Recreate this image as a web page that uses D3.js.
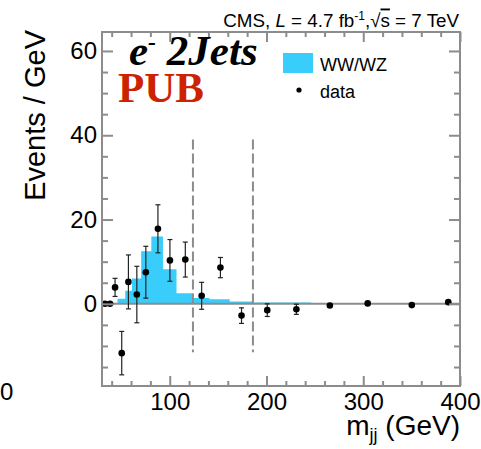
<!DOCTYPE html>
<html>
<head>
<meta charset="utf-8">
<script src="https://cdn.jsdelivr.net/npm/d3@7"></script>
<style>
  html, body { margin: 0; padding: 0; background: #fff; }
  svg { display: block; }
  text { font-family: "Liberation Sans", Arial, sans-serif; fill: #000; }
  text.serif { font-family: "Liberation Serif", "Times New Roman", serif; }
</style>
</head>
<body>
<svg id="chart" width="481" height="449"></svg>
<script>
// Dijet invariant mass, electron channel
const histEdges = [46, 54, 61, 70.5, 81, 93, 107, 124, 141, 162, 186, 214, 246];
const histValues = [1.2, 3.1, 6.0, 12.5, 16.0, 8.2, 2.5, 1.4, 1.1, 0.55, 0.3, 0.3];

const dataMass = [33.1, 38.3, 43.5, 50.4, 57.3, 66.0, 75.3, 87.8, 100.2, 116.1, 133.0, 152.4, 174.2, 200.8, 230.9, 265.5, 304.6, 350.2, 387.9];
const dataValues = [0, 0, 3.9, -11.7, 5.2, 2.2, 7.5, 17.8, 10.3, 10.5, 1.9, 8.6, -2.8, -1.5, -1.3, -0.4, 0.1, -0.3, 0.4];
const dataErrors = [0, 0, 2.15, 5.15, 6.4, 6.7, 6.15, 5.7, 4.95, 4.15, 3.2, 2.4, 1.85, 1.5, 1.2, 0.6, 0.3, 0.3, 0.4];

const windowEdges = [124, 186];
const windowRange = [-11.5, 39];

const xTicks = [100, 200, 300, 400];
const yTicks = [0, 20, 40, 60];

const svg = d3.select("#chart");
const pLeft = 102, pRight = 460, pTop = 32, pBottom = 386;

const x = d3.scaleLinear().domain([30, 400]).range([pLeft, pRight]);
const y = d3.scaleLinear().domain([-19.5, 64.5]).range([pBottom, pTop]);

const grey = "#8c8c8c";
const cyan = "#38cdfa";

// Histogram of expected WW/WZ
const histPts = [];
histValues.forEach((v, i) => {
  histPts.push([histEdges[i], v], [histEdges[i + 1], v]);
});
const area = d3.area()
  .x(d => x(d[0]))
  .y0(y(0))
  .y1(d => y(d[1]));
svg.append("path")
  .datum(histPts)
  .attr("d", area)
  .attr("fill", cyan);

// Zero line
svg.append("line")
  .attr("x1", pLeft).attr("x2", pRight)
  .attr("y1", y(0)).attr("y2", y(0))
  .attr("stroke", grey).attr("stroke-width", 2);

// Mass window
svg.selectAll(".win").data(windowEdges).enter().append("line")
  .attr("x1", d => x(d)).attr("x2", d => x(d))
  .attr("y1", y(windowRange[1])).attr("y2", y(windowRange[0]))
  .attr("stroke", grey).attr("stroke-width", 2)
  .attr("stroke-dasharray", "10,4");

// Data points with error bars
const pts = dataMass.map((m, i) => ({ m, v: dataValues[i], e: dataErrors[i] }));
const eb = svg.append("g").attr("stroke", "#222").attr("stroke-width", 1.2);
pts.filter(d => d.e > 0).forEach(d => {
  const cx = x(d.m);
  eb.append("line").attr("x1", cx).attr("x2", cx)
    .attr("y1", y(d.v + d.e)).attr("y2", y(d.v - d.e));
  if (y(d.v - d.e) - y(d.v + d.e) > 7) {
    [d.v + d.e, d.v - d.e].forEach(yy => {
      eb.append("line").attr("x1", cx - 2.5).attr("x2", cx + 2.5)
        .attr("y1", y(yy)).attr("y2", y(yy));
    });
  }
});
svg.selectAll(".pt").data(pts).enter().append("circle")
  .attr("cx", d => x(d.m)).attr("cy", d => y(d.v))
  .attr("r", 3.3).attr("fill", "#000");

// Axes with inward ticks
const axisStyle = g => {
  g.select(".domain").remove();
  g.selectAll(".tick line").attr("stroke", grey).attr("stroke-width", 2);
  g.selectAll("text").attr("font-size", "24px").attr("fill", "#000");
};
const xMinor = d3.range(40, 400, 20).filter(v => !xTicks.includes(v));
const yMinor = d3.range(-15, 64, 5).filter(v => !yTicks.includes(v));

svg.append("g").attr("transform", `translate(0,${pBottom})`)
  .call(d3.axisBottom(x).tickValues(xTicks).tickSize(-10).tickPadding(7).tickFormat(d3.format("d")))
  .call(axisStyle);
svg.append("g").attr("transform", `translate(0,${pBottom})`)
  .call(d3.axisBottom(x).tickValues(xMinor).tickSize(-5).tickFormat(""))
  .call(axisStyle);
svg.append("g").attr("transform", `translate(0,${pTop})`)
  .call(d3.axisTop(x).tickValues(xTicks).tickSize(-10).tickFormat(""))
  .call(axisStyle);
svg.append("g").attr("transform", `translate(0,${pTop})`)
  .call(d3.axisTop(x).tickValues(xMinor).tickSize(-5).tickFormat(""))
  .call(axisStyle);

svg.append("g").attr("transform", `translate(${pLeft},0)`)
  .call(d3.axisLeft(y).tickValues(yTicks).tickSize(-11).tickPadding(5).tickFormat(d3.format("d")))
  .call(axisStyle);
svg.append("g").attr("transform", `translate(${pLeft},0)`)
  .call(d3.axisLeft(y).tickValues(yMinor).tickSize(-6).tickFormat(""))
  .call(axisStyle);
svg.append("g").attr("transform", `translate(${pRight},0)`)
  .call(d3.axisRight(y).tickValues(yTicks).tickSize(-11).tickFormat(""))
  .call(axisStyle);
svg.append("g").attr("transform", `translate(${pRight},0)`)
  .call(d3.axisRight(y).tickValues(yMinor).tickSize(-6).tickFormat(""))
  .call(axisStyle);

// Frame
svg.append("rect")
  .attr("x", pLeft).attr("y", pTop)
  .attr("width", pRight - pLeft).attr("height", pBottom - pTop)
  .attr("fill", "none").attr("stroke", grey).attr("stroke-width", 2);

// Stray label at the far left
svg.append("text").attr("x", 0).attr("y", 400)
  .attr("font-size", "24px").text("0");

// Axis titles
svg.append("text")
  .attr("transform", "translate(45,30) rotate(-90)")
  .attr("text-anchor", "end")
  .attr("font-size", "29px")
  .text("Events / GeV");

const xt = svg.append("text")
  .attr("x", pRight).attr("y", 435)
  .attr("text-anchor", "end")
  .attr("font-size", "28px");
xt.append("tspan").text("m");
xt.append("tspan").attr("font-size", "18px").attr("dy", 6).text("jj");
xt.append("tspan").attr("dy", -6).text(" (GeV)");

// Header
const hd = svg.append("text")
  .attr("x", pRight - 1).attr("y", 26.5)
  .attr("text-anchor", "end")
  .attr("font-size", "18.8px");
hd.append("tspan").text("CMS, ");
hd.append("tspan").attr("font-style", "italic").text("L");
hd.append("tspan").text(" = 4.7 fb");
hd.append("tspan").attr("font-size", "12px").attr("dy", -7).text("-1");
hd.append("tspan").attr("dy", 7).text(",\u221A");
hd.append("tspan").attr("text-decoration", "overline").text("s");
hd.append("tspan").text(" = 7 TeV");

// Channel label
const ch = svg.append("text")
  .attr("class", "serif")
  .attr("x", 129).attr("y", 65)
  .attr("font-weight", "bold").attr("font-style", "italic")
  .attr("font-size", "43px");
ch.append("tspan").text("e");
ch.append("tspan").attr("font-size", "24px").attr("dy", -15).text("-");
ch.append("tspan").attr("dy", 15).text(" 2Jets");

svg.append("text")
  .attr("class", "serif")
  .attr("x", 118).attr("y", 102)
  .attr("font-weight", "bold")
  .attr("font-size", "43px")
  .style("fill", "#cc2200")
  .text("PUB");

// Legend
svg.append("rect")
  .attr("x", 283).attr("y", 53).attr("width", 30).attr("height", 20)
  .attr("fill", cyan);
svg.append("text").attr("x", 320).attr("y", 71)
  .attr("font-size", "18px").text("WW/WZ");
svg.append("circle").attr("cx", 299).attr("cy", 90).attr("r", 2.6).attr("fill", "#000");
svg.append("text").attr("x", 320).attr("y", 98)
  .attr("font-size", "18px").text("data");
</script>
</body>
</html>
